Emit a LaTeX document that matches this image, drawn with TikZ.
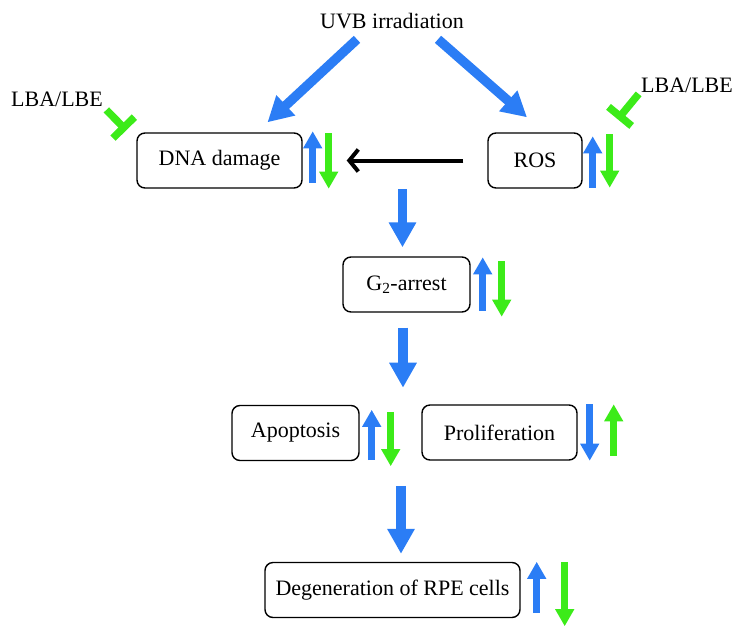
\documentclass[tikz,border=0pt]{standalone}
\usepackage{fontspec}
\setmainfont{Liberation Serif}
\usepackage{tikz}
\usetikzlibrary{arrows.meta, positioning}

\definecolor{upblue}{RGB}{43,125,245}
\definecolor{downgreen}{RGB}{60,235,25}

\tikzset{
  box/.style={draw, rounded corners=8pt, line width=1.4pt, minimum height=55pt},
  bigarrow/.style={upblue, line width=9.5pt, -{Triangle[width=26pt,length=25pt]}},
  bluemark/.style={upblue, line width=6.5pt, -{Triangle[width=18pt,length=17pt]}},
  greenmark/.style={downgreen, line width=6.5pt, -{Triangle[width=18pt,length=17pt]}},
  block/.style={downgreen, line width=7.5pt, -{Bar[width=30pt]}},
  blackarrow/.style={black, line width=4pt, -{Straight Barb[length=9pt,width=22pt]}}
}

\begin{document}
\begin{tikzpicture}[x=1pt,y=-1pt,font=\fontsize{22}{26}\selectfont]
    \useasboundingbox (0,0) rectangle (743,632);

    \node (uvb) at (392,21) {UVB irradiation};
    \node (lbal) at (57,99) {LBA/LBE};
    \node (lbar) at (687,85) {LBA/LBE};

    \node[box, minimum width=165pt] (dna) at (219.5,160.5) {DNA damage};
    \node[box, minimum width=94pt] (ros) at (535,160.5) {ROS};
    \node[box, minimum width=127pt] (g2) at (406.5,284.5) {G\textsubscript{2}-arrest};
    \node[box, minimum width=127pt] (apop) at (295.5,433) {Apoptosis};
    \node[box, minimum width=155pt] (prolif) at (499.5,432.5) {Proliferation};
    \node[box, minimum width=255pt] (degen) at (392.5,590) {Degeneration of RPE cells};

    % main flow
    \draw[bigarrow] ([xshift=-35pt,yshift=-7pt]uvb.south) -- ([xshift=48pt,yshift=10pt]dna.north);
    \draw[bigarrow] ([xshift=46pt,yshift=-7pt]uvb.south) -- ([xshift=-8pt,yshift=15pt]ros.north);
    \draw[blackarrow] ([xshift=-24pt]ros.west) -- ([xshift=44pt]dna.east);
    \draw[bigarrow] ([xshift=-4pt,yshift=67pt]g2.north) -- ([xshift=-4pt,yshift=9pt]g2.north);
    \draw[bigarrow] ([xshift=-3.5pt,yshift=-15pt]g2.south) -- ([xshift=-3.5pt,yshift=-75pt]g2.south);
    \draw[bigarrow] ([xshift=8.5pt,yshift=76pt]degen.north) -- ([xshift=8.5pt,yshift=8pt]degen.north);

    % inhibition
    \draw[block] (lbal.south east) -- ([xshift=-10pt,yshift=2pt]dna.north west);
    \draw[block] ([xshift=1pt,yshift=2pt]lbar.south west) -- ([xshift=35pt,yshift=13pt]ros.north east);

    % up/down marks
    \draw[bluemark] ([xshift=10pt,yshift=6pt]dna.south east) -- ([xshift=10pt,yshift=1pt]dna.north east);
    \draw[greenmark] ([xshift=26pt,yshift=-1pt]dna.north east) -- ([xshift=26pt]dna.south east);
    \draw[bluemark] ([xshift=10pt,yshift=1pt]ros.south east) -- ([xshift=10pt,yshift=-4pt]ros.north east);
    \draw[greenmark] ([xshift=27pt,yshift=-2pt]ros.north east) -- ([xshift=27pt,yshift=1pt]ros.south east);
    \draw[bluemark] ([xshift=12pt,yshift=2pt]g2.south east) -- ([xshift=12pt,yshift=-1pt]g2.north east);
    \draw[greenmark] ([xshift=31pt,yshift=-5pt]g2.north east) -- ([xshift=31pt,yshift=-4pt]g2.south east);
    \draw[bluemark] ([xshift=12pt,yshift=1pt]apop.south east) -- ([xshift=12pt,yshift=-5pt]apop.north east);
    \draw[greenmark] ([xshift=31pt,yshift=-7pt]apop.north east) -- ([xshift=31pt,yshift=-5pt]apop.south east);
    \draw[bluemark] ([xshift=12pt]prolif.north east) -- ([xshift=12pt]prolif.south east);
    \draw[greenmark] ([xshift=36pt,yshift=5pt]prolif.south east) -- ([xshift=36pt]prolif.north east);
    \draw[bluemark] ([xshift=16pt,yshift=5pt]degen.south east) -- ([xshift=16pt]degen.north east);
    \draw[greenmark] ([xshift=44pt]degen.north east) -- ([xshift=44pt,yshift=-8pt]degen.south east);
\end{tikzpicture}
\end{document}
